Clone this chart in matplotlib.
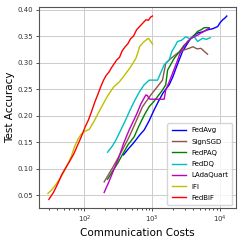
import matplotlib
matplotlib.use("Agg")
import matplotlib.pyplot as plt

labels = ["FedAvg", "SignSGD", "FedPAQ", "FedDQ", "LAdaQuart", "IFI", "FedBiF"]
colors = ["#0000ff", "#8c564b", "#008000", "#00bfbf", "#bf00bf", "#bfbf00", "#ff0000"]

fedavg_x = [378, 450, 520, 575, 650, 763, 900, 1070, 1250, 1450, 1780, 2000, 2240, 2500, 2800, 3200, 3720, 4200, 4680, 5500, 6560, 7800, 9230, 10000, 11000, 11800, 12600]
fedavg_y = [0.126, 0.138, 0.147, 0.154, 0.163, 0.173, 0.190, 0.211, 0.228, 0.243, 0.258, 0.272, 0.289, 0.305, 0.321, 0.333, 0.346, 0.352, 0.356, 0.358, 0.362, 0.364, 0.368, 0.375, 0.381, 0.384, 0.388]

signsgd_x = [196, 230, 270, 320, 380, 450, 530, 620, 721, 830, 955, 1150, 1420, 1590, 1890, 2370, 2960, 3500, 3980, 4600, 5250, 5900, 6560]
signsgd_y = [0.075, 0.090, 0.105, 0.122, 0.140, 0.158, 0.178, 0.198, 0.217, 0.228, 0.239, 0.252, 0.267, 0.299, 0.308, 0.318, 0.324, 0.327, 0.330, 0.326, 0.327, 0.321, 0.316]

fedpaq_x = [220, 260, 310, 370, 440, 543, 610, 681, 780, 903, 1050, 1202, 1400, 1585, 1690, 2110, 2500, 2960, 3300, 3720, 4200, 4680, 5250, 5850, 6920]
fedpaq_y = [0.080, 0.095, 0.110, 0.128, 0.145, 0.160, 0.175, 0.188, 0.203, 0.217, 0.226, 0.236, 0.247, 0.258, 0.286, 0.308, 0.320, 0.333, 0.338, 0.346, 0.352, 0.359, 0.362, 0.366, 0.366]

feddq_x = [220, 260, 292, 345, 400, 470, 550, 650, 760, 903, 1050, 1202, 1350, 1503, 1780, 1950, 2150, 2370, 2700, 3140, 3600, 4170, 4680, 5100, 5530, 6300, 7180]
feddq_y = [0.131, 0.143, 0.154, 0.173, 0.190, 0.210, 0.228, 0.245, 0.258, 0.267, 0.267, 0.267, 0.282, 0.296, 0.305, 0.321, 0.330, 0.340, 0.342, 0.349, 0.345, 0.349, 0.340, 0.343, 0.346, 0.344, 0.347]

ladaquart_x = [196, 230, 270, 320, 380, 458, 530, 600, 680, 760, 807, 850, 900, 955, 1100, 1300, 1503, 1585, 1800, 2000, 2300, 2630, 3000, 3310, 3700, 4170, 4700, 5250, 6000, 6920]
ladaquart_y = [0.055, 0.075, 0.097, 0.120, 0.148, 0.173, 0.190, 0.205, 0.222, 0.233, 0.239, 0.238, 0.232, 0.231, 0.231, 0.231, 0.231, 0.248, 0.265, 0.280, 0.300, 0.321, 0.332, 0.340, 0.345, 0.349, 0.352, 0.356, 0.360, 0.365]

ifi_x = [29, 33, 38, 44, 50, 58, 65, 71, 80, 90, 100, 118, 140, 175, 220, 270, 330, 400, 470, 575, 620, 650, 724, 800, 885, 950, 1014]
ifi_y = [0.053, 0.060, 0.070, 0.082, 0.094, 0.110, 0.125, 0.140, 0.155, 0.165, 0.170, 0.174, 0.190, 0.214, 0.237, 0.254, 0.264, 0.278, 0.290, 0.308, 0.320, 0.330, 0.337, 0.342, 0.346, 0.340, 0.335]

fedbif_x = [30, 35, 40, 47, 55, 62, 70, 80, 90, 103, 115, 128, 142, 158, 175, 192, 210, 230, 250, 275, 300, 330, 360, 400, 440, 480, 530, 590, 650, 720, 810, 880, 950, 1010]
fedbif_y = [0.042, 0.055, 0.070, 0.090, 0.105, 0.116, 0.128, 0.145, 0.160, 0.179, 0.192, 0.208, 0.225, 0.240, 0.255, 0.267, 0.276, 0.282, 0.290, 0.298, 0.305, 0.310, 0.322, 0.330, 0.336, 0.345, 0.350, 0.362, 0.368, 0.374, 0.381, 0.380, 0.386, 0.388]

series_x = [fedavg_x, signsgd_x, fedpaq_x, feddq_x, ladaquart_x, ifi_x, fedbif_x]
series_y = [fedavg_y, signsgd_y, fedpaq_y, feddq_y, ladaquart_y, ifi_y, fedbif_y]

fig = plt.figure(figsize=(2.42, 2.42), dpi=100)
ax = fig.add_axes([0.161, 0.139, 0.813, 0.832])
for xs, ys, lab, col in zip(series_x, series_y, labels, colors):
    ax.plot(xs, ys, color=col, lw=1.0, label=lab)
ax.set_xscale("log")
ax.set_ylim(0.025, 0.405)
ax.set_yticks([0.05, 0.10, 0.15, 0.20, 0.25, 0.30, 0.35, 0.40])
ax.grid(True, color="#cccccc", lw=0.7)
ax.set_axisbelow(True)
for s in ax.spines.values():
    s.set_color("#555555")
    s.set_linewidth(0.8)
ax.tick_params(labelsize=5, colors="#333333", length=2, width=0.6, pad=2)
ax.tick_params(which="minor", length=1.2, width=0.5)
ax.set_xlabel("Communication Costs", fontsize=7.5, labelpad=2)
ax.set_ylabel("Test Accuracy", fontsize=7.5, labelpad=2)
leg = ax.legend(loc="lower right", fontsize=5.0, handlelength=2.0, borderpad=0.6,
                labelspacing=0.75, frameon=True, fancybox=True)
leg.get_frame().set_edgecolor("#cccccc")
fig.savefig("out.png", dpi=100)
